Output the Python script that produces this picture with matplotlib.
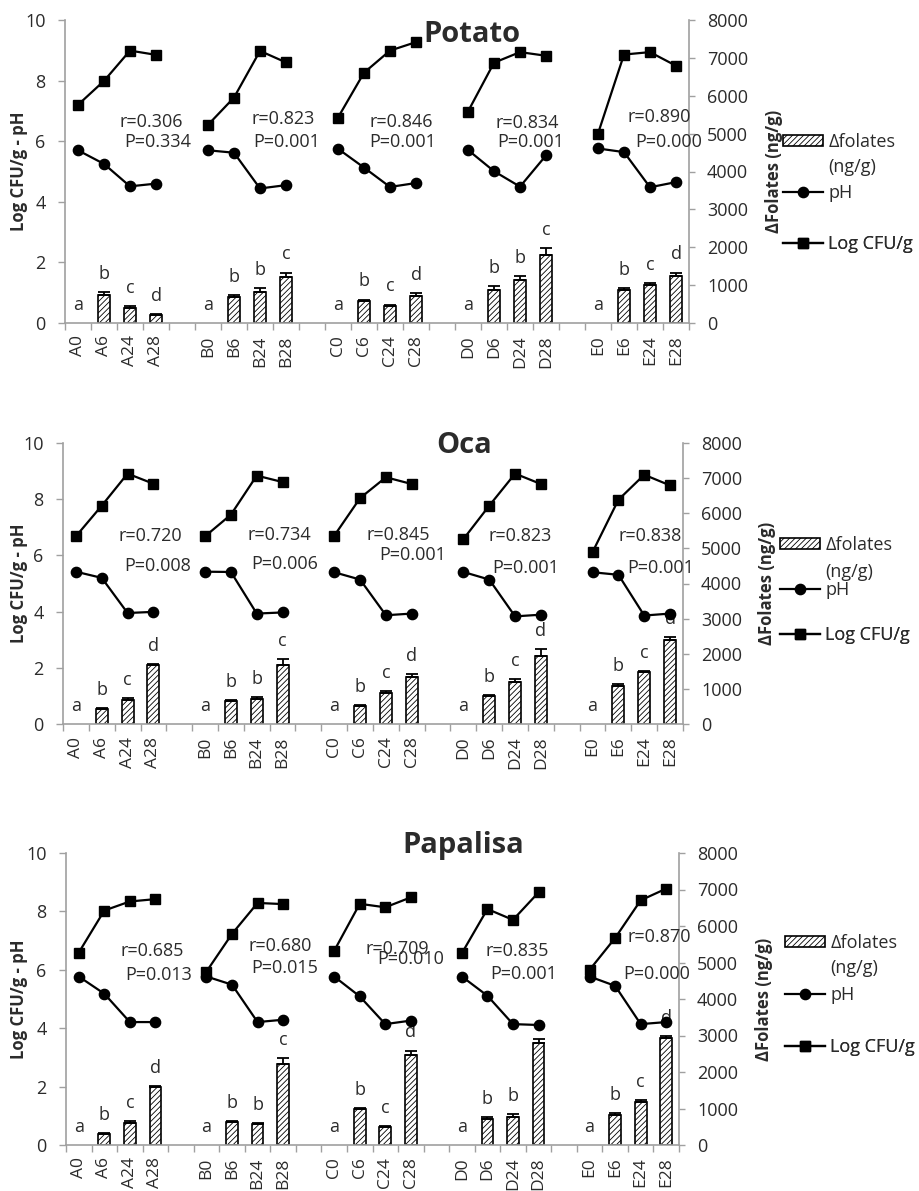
import numpy as np
import matplotlib.pyplot as plt
from matplotlib.patches import Patch
from matplotlib.lines import Line2D

plt.rcParams['font.family'] = ['Open Sans', 'DejaVu Sans']
plt.rcParams['hatch.linewidth'] = 0.6

# -------------------------------
# Data
# -------------------------------
groups = ['A', 'B', 'C', 'D', 'E']
times = ['0', '6', '24', '28']
crops = ['Potato', 'Oca', 'Papalisa']

# Log CFU/g, samples A0 A6 A24 A28 B0 ... E28
cfu_potato = [7.20, 7.99, 8.99, 8.85, 6.54, 7.44, 8.98, 8.60, 6.78, 8.26, 8.99, 9.27,
              6.98, 8.59, 8.94, 8.82, 6.25, 8.86, 8.94, 8.49]
cfu_oca = [6.68, 7.77, 8.91, 8.55, 6.68, 7.45, 8.84, 8.61, 6.70, 8.04, 8.78, 8.54,
           6.58, 7.77, 8.91, 8.54, 6.12, 7.98, 8.87, 8.49]
cfu_papalisa = [6.59, 8.03, 8.34, 8.42, 5.94, 7.23, 8.29, 8.25, 6.65, 8.26, 8.14, 8.48,
                6.57, 8.08, 7.71, 8.65, 6.00, 7.09, 8.38, 8.78]

# pH
ph_potato = [5.70, 5.25, 4.51, 4.60, 5.70, 5.62, 4.44, 4.55, 5.75, 5.13, 4.49, 4.62,
             5.71, 5.01, 4.50, 5.53, 5.76, 5.64, 4.48, 4.65]
ph_oca = [5.42, 5.20, 3.95, 3.99, 5.42, 5.41, 3.93, 3.97, 5.40, 5.14, 3.87, 3.93,
          5.41, 5.14, 3.83, 3.89, 5.40, 5.31, 3.86, 3.93]
ph_papalisa = [5.77, 5.18, 4.21, 4.21, 5.77, 5.49, 4.21, 4.29, 5.77, 5.09, 4.14, 4.26,
               5.77, 5.11, 4.14, 4.11, 5.77, 5.45, 4.14, 4.21]

# delta folates (ng/g) and error
fol_potato = [0, 747, 396, 220, 0, 686, 809, 1213, 0, 589, 457, 721,
              0, 877, 1123, 1789, 0, 860, 1009, 1237]
err_potato = [0, 60, 40, 25, 0, 60, 110, 120, 0, 30, 30, 65,
              0, 90, 105, 180, 0, 65, 45, 95]
fol_oca = [0, 427, 693, 1689, 0, 664, 712, 1689, 0, 522, 882, 1338,
           0, 788, 1186, 1945, 0, 1091, 1471, 2382]
err_oca = [0, 40, 40, 25, 0, 30, 50, 160, 0, 30, 50, 95,
           0, 50, 95, 190, 0, 60, 50, 95]
fol_papalisa = [0, 293, 613, 1582, 0, 622, 576, 2213, 0, 978, 485, 2469,
                0, 713, 759, 2807, 0, 823, 1189, 2926]
err_papalisa = [0, 45, 45, 35, 0, 30, 30, 165, 0, 45, 30, 120,
                0, 45, 85, 90, 0, 45, 45, 65]

# significance letters
let_potato = list('abcd' 'abbc' 'abcd' 'abbc' 'abcd')
let_oca = list('abcd' 'abbc' 'abcd' 'abcd' 'abcd')
let_papalisa = list('abcd' 'abbc' 'abcd' 'abbc' 'abcd')

# correlation labels per group
r_potato = ['r=0.306', 'r=0.823', 'r=0.846', 'r=0.834', 'r=0.890']
p_potato = ['P=0.334', 'P=0.001', 'P=0.001', 'P=0.001', 'P=0.000']
r_oca = ['r=0.720', 'r=0.734', 'r=0.845', 'r=0.823', 'r=0.838']
p_oca = ['P=0.008', 'P=0.006', 'P=0.001', 'P=0.001', 'P=0.001']
r_papalisa = ['r=0.685', 'r=0.680', 'r=0.709', 'r=0.835', 'r=0.870']
p_papalisa = ['P=0.013', 'P=0.015', 'P=0.010', 'P=0.001', 'P=0.000']

# -------------------------------
# Layout (pixels of a 919x1191 canvas)
# -------------------------------
W, H = 919, 1191
panel_px = [(65, 20, 689, 323), (63, 443, 683, 724), (66, 853, 679, 1145)]
title_px = [(472, 34), (464, 445), (463, 845)]
# legend: handle left x, then row centres for patch, "(ng/g)", pH, Log CFU/g
legend_px = [(783, [142, 167, 193, 244]), (780, [545, 572, 590, 635]),
             (785, [943, 968, 995, 1047])]
rlabel_px = [765, 758, 755]
# text anchor positions (x in slots, y in left-axis units)
r_pos = [
    [(3.31, 6.65), (8.38, 6.73), (12.92, 6.65), (17.77, 6.59), (22.87, 6.81)],
    [(3.39, 6.68), (8.38, 6.74), (12.97, 6.74), (17.69, 6.68), (22.73, 6.68)],
    [(3.37, 6.66), (8.38, 6.83), (12.98, 6.72), (17.68, 6.66), (23.24, 7.11)],
]
p_pos = [
    [(3.58, 5.96), (8.54, 5.99), (13.00, 5.99), (17.90, 5.99), (23.23, 5.99)],
    [(3.66, 5.61), (8.59, 5.69), (13.53, 6.03), (17.92, 5.55), (23.12, 5.55)],
    [(3.64, 5.83), (8.57, 6.06), (13.51, 6.37), (17.93, 5.86), (23.13, 5.86)],
]
letter_off = 13          # points above the error bar
letter_off_fix = {(2, 15): 10}   # papalisa D28 letter sits behind the pH marker

panels = [
    (cfu_potato, ph_potato, fol_potato, err_potato, let_potato, r_potato, p_potato),
    (cfu_oca, ph_oca, fol_oca, err_oca, let_oca, r_oca, p_oca),
    (cfu_papalisa, ph_papalisa, fol_papalisa, err_papalisa, let_papalisa, r_papalisa, p_papalisa),
]

labels = [g + t for g in groups for t in times]
xpos = np.array([gi * 5 + ti + 0.5 for gi in range(len(groups)) for ti in range(len(times))])

axis_grey = '#a0a0a0'
text_col = '#2b2b2b'
fs = 13

fig = plt.figure(figsize=(W / 100, H / 100), dpi=100)

for k, (cfu, ph, fol, err, lets, rtxt, ptxt) in enumerate(panels):
    x0, y0, x1, y1 = panel_px[k]
    ax_b = fig.add_axes([x0 / W, 1 - y1 / H, (x1 - x0) / W, (y1 - y0) / H])
    ax_l = ax_b.twinx()
    # bars on the back axes (right scale), lines on top (left scale)
    ax_b.yaxis.tick_right()
    ax_b.yaxis.set_label_position('right')
    ax_l.yaxis.tick_left()
    ax_l.yaxis.set_label_position('left')

    fol_a = np.array(fol, dtype=float)
    err_a = np.array(err, dtype=float)
    has = fol_a > 0
    ax_b.bar(xpos[has], fol_a[has], width=0.46, color='white', edgecolor='black',
             hatch='//////', linewidth=1.2, zorder=2)
    ax_b.errorbar(xpos[has], fol_a[has], yerr=[np.zeros(has.sum()), err_a[has]], fmt='none',
                  ecolor='black', elinewidth=1.3, capsize=4, capthick=1.3, zorder=3)
    for i, (xi, f, e, s) in enumerate(zip(xpos, fol, err, lets)):
        off = letter_off_fix.get((k, i), letter_off)
        ax_b.annotate(s, (xi, f + e), xytext=(0, off), textcoords='offset points',
                      ha='center', va='center', fontsize=fs, color=text_col, zorder=1)

    for gi in range(len(groups)):
        sl = slice(gi * 4, gi * 4 + 4)
        ax_l.plot(xpos[sl], cfu[sl], color='black', lw=1.6, marker='s', ms=6.8, zorder=4)
        ax_l.plot(xpos[sl], ph[sl], color='black', lw=1.6, marker='o', ms=7.4, zorder=4)
        ax_l.text(*r_pos[k][gi], rtxt[gi], ha='center', va='center', fontsize=fs, color=text_col)
        ax_l.text(*p_pos[k][gi], ptxt[gi], ha='center', va='center', fontsize=fs, color=text_col)

    ax_b.set_xlim(0, 24)
    ax_b.set_ylim(0, 8000)
    ax_l.set_ylim(0, 10)
    ax_b.set_yticks(np.arange(0, 8001, 1000))
    ax_l.set_yticks(np.arange(0, 11, 2))

    ax_b.set_xticks(xpos)
    ax_b.set_xticklabels(labels, rotation=90, fontsize=12.5, color=text_col)
    ax_b.set_xticks(np.arange(0, 25), minor=True)
    ax_b.tick_params(axis='x', which='major', length=0, pad=9)
    ax_b.tick_params(axis='x', which='minor', length=5, width=1, color=axis_grey, direction='out')
    ax_b.tick_params(axis='y', length=4, width=1, color=axis_grey, labelsize=fs,
                     labelcolor=text_col, pad=9)
    ax_l.tick_params(axis='y', length=5, width=1, color=axis_grey, labelsize=fs,
                     labelcolor=text_col, pad=9)

    for side in ['top', 'left']:
        ax_b.spines[side].set_visible(False)
    for side in ['top', 'right', 'bottom']:
        ax_l.spines[side].set_visible(False)
    for sp in [ax_b.spines['right'], ax_b.spines['bottom'], ax_l.spines['left']]:
        sp.set_color(axis_grey)
        sp.set_linewidth(1.2)

    yc = 1 - (y0 + y1) / 2 / H
    ax_l.set_ylabel('Log CFU/g - pH', fontsize=12, fontweight='bold', color=text_col)
    ax_l.yaxis.set_label_coords(28 / W, yc, transform=fig.transFigure)
    ax_b.set_ylabel('\u0394Folates (ng/g)', fontsize=12, fontweight='bold', color=text_col)
    ax_b.yaxis.set_label_coords(rlabel_px[k] / W, yc, transform=fig.transFigure)

    tx, ty = title_px[k]
    fig.text(tx / W, 1 - ty / H, crops[k], ha='center', va='center',
             fontsize=21, fontweight='bold', color=text_col)

    # legend, one row at a time so rows sit where the reference puts them
    lx, rows = legend_px[k]
    entries = [
        (Patch(facecolor='white', edgecolor='black', hatch='//////', linewidth=1.2),
         '\u0394folates', rows[0]),
        (Line2D([], [], color='black', lw=1.6, marker='o', ms=7.4), 'pH', rows[2]),
        (Line2D([], [], color='black', lw=1.6, marker='s', ms=6.8), 'Log CFU/g', rows[3]),
    ]
    for handle, lab, ry in entries:
        leg = ax_l.legend([handle], [lab], loc='center left',
                          bbox_to_anchor=(lx / W, 1 - ry / H),
                          bbox_transform=fig.transFigure, frameon=False, fontsize=fs,
                          handlelength=2.2, handleheight=0.6, handletextpad=0.3,
                          borderpad=0, borderaxespad=0, labelcolor=text_col)
        ax_l.add_artist(leg)
    fig.text((lx + 45) / W, 1 - rows[1] / H, '(ng/g)', ha='left', va='center',
             fontsize=fs, color=text_col)

fig.savefig('out.png', dpi=100)
